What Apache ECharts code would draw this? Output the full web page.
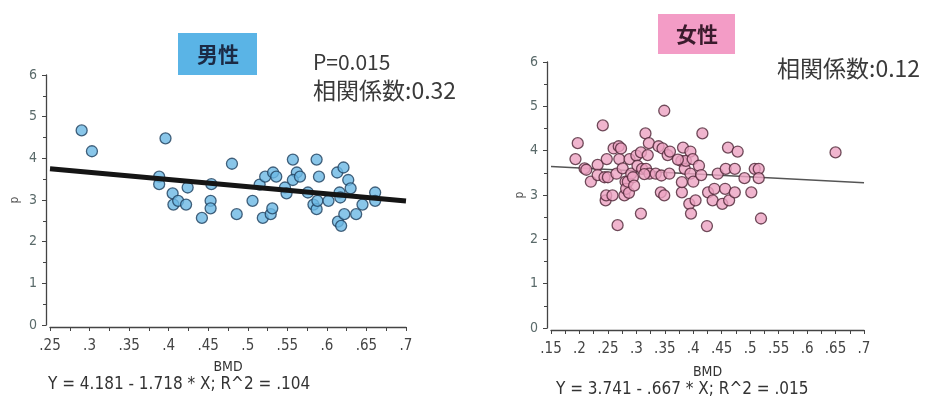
<!DOCTYPE html>
<html>
<head>
<meta charset="utf-8">
<script src="https://cdn.jsdelivr.net/npm/echarts@6/dist/echarts.min.js"></script>
<style>
html,body{margin:0;padding:0;background:#fff;}
#c{width:933px;height:399px;}
</style>
</head>
<body>
<div id="c"></div>
<script>
// ---- Data ----
const maleBMD = [0.290,0.303,0.396,0.388,0.388,0.405,0.406,0.412,0.422,0.424,0.442,0.454,0.453,0.453,0.480,0.486,0.506,0.515,0.519,0.522,0.529,0.531,0.532,0.536,0.547,0.549,0.557,0.562,0.557,0.566,0.576,0.583,0.587,0.590,0.587,0.588,0.602,0.613,0.616,0.614,0.618,0.617,0.621,0.622,0.627,0.630,0.637,0.645,0.661,0.661];
const maleP   = [4.67,4.17,4.48,3.56,3.38,3.16,2.89,2.98,2.89,3.30,2.57,3.38,2.98,2.80,3.87,2.66,2.98,3.37,2.57,3.56,2.66,2.80,3.66,3.56,3.30,3.16,3.97,3.66,3.48,3.56,3.18,2.89,3.97,3.56,2.78,2.98,2.98,3.66,3.18,2.48,2.38,3.06,3.78,2.66,3.48,3.28,2.66,2.89,3.18,2.98];

const femaleBMD = [0.193,0.197,0.209,0.212,0.220,0.232,0.232,0.241,0.244,0.246,0.247,0.250,0.248,0.258,0.260,0.265,0.267,0.269,0.270,0.273,0.276,0.279,0.281,0.282,0.285,0.287,0.288,0.291,0.294,0.300,0.302,0.308,0.308,0.310,0.316,0.317,0.320,0.322,0.323,0.334,0.339,0.344,0.343,0.346,0.349,0.349,0.355,0.359,0.358,0.379,0.380,0.380,0.382,0.385,0.387,0.395,0.393,0.396,0.395,0.399,0.400,0.404,0.410,0.414,0.416,0.424,0.426,0.434,0.437,0.443,0.451,0.456,0.457,0.461,0.463,0.473,0.473,0.478,0.490,0.502,0.508,0.515,0.515,0.519,0.650,0.296,0.314,0.373];
const femaleP   = [3.81,4.17,3.60,3.57,3.30,3.68,3.45,4.57,3.40,2.88,2.99,3.40,3.81,2.99,4.05,3.48,2.32,4.10,3.81,4.05,3.60,2.99,3.30,3.14,3.30,3.05,3.81,3.48,3.40,3.89,3.66,2.58,3.96,3.59,4.39,3.59,3.90,4.17,3.48,3.48,4.10,3.44,3.06,4.05,2.99,4.90,3.90,3.98,3.48,3.77,3.06,3.29,4.07,3.59,3.77,3.98,2.80,2.58,3.48,3.81,3.30,2.88,3.66,3.45,4.39,2.30,3.06,2.88,3.14,3.48,2.80,3.14,3.59,4.07,2.88,3.59,3.06,3.98,3.38,3.06,3.59,3.59,3.38,2.47,3.96,3.21,3.47,3.80];

const maleTickLabels   = ['.25','.3','.35','.4','.45','.5','.55','.6','.65','.7'];
const femaleTickLabels = ['.15','.2','.25','.3','.35','.4','.45','.5','.55','.6','.65','.7'];
const yTickLabels = ['0','1','2','3','4','5','6'];

const maleFit   = {a: 4.181, b: -1.718, xs: [0.25, 0.70]};
const femaleFit = {a: 3.741, b: -0.667, xs: [0.15, 0.70]};

const maleTitle = '男性', femaleTitle = '女性';
const maleStats = ['P=0.015', '相関係数:0.32'];
const femaleStats = ['相関係数:0.12'];
const maleEq = 'Y = 4.181 - 1.718 * X; R^2 = .104';
const femaleEq = 'Y = 3.741 - .667 * X; R^2 = .015';
const xName = 'BMD', yName = 'p';

// ---- Build ----
const pairs = (xs, ys) => xs.map((x, i) => [x, ys[i]]);
const fitLine = f => f.xs.map(x => [x, f.a + f.b * x]);

const narrow = '"DejaVu Sans Condensed","Liberation Sans Narrow","DejaVu Sans",sans-serif';
const cjk = '"Noto Sans CJK JP","Noto Sans",sans-serif';

function xAxisCfg(gi, min, labels, nameGap) {
  return {
    gridIndex: gi, type: 'value', min: min, max: 0.7, interval: 0.05,
    offset: 2,
    name: xName, nameLocation: 'middle', nameGap: nameGap,
    nameTextStyle: {fontFamily: narrow, fontSize: 14, color: '#333'},
    axisLine: {show: true, onZero: false, lineStyle: {color: '#444', width: 1.3}},
    axisTick: {show: true, length: 4, lineStyle: {color: '#444'}},
    minorTick: {show: true, splitNumber: 2, length: 4, lineStyle: {color: '#444'}},
    splitLine: {show: false},
    axisLabel: {
      margin: 12, color: '#444', fontFamily: narrow, fontSize: 15,
      formatter: v => labels[Math.round((v - min) / 0.05)] || ''
    }
  };
}
function yAxisCfg(gi, nameGap) {
  return {
    gridIndex: gi, type: 'value', min: 0, max: 6, interval: 1,
    offset: 4,
    name: yName, nameLocation: 'middle', nameGap: nameGap, nameRotate: 90,
    nameTextStyle: {fontFamily: narrow, fontSize: 12, color: '#555'},
    axisLine: {show: true, lineStyle: {color: '#444', width: 1.3}},
    axisTick: {show: true, length: 4, lineStyle: {color: '#444'}},
    minorTick: {show: true, splitNumber: 2, length: 3, lineStyle: {color: '#444'}},
    splitLine: {show: false},
    axisLabel: {
      margin: 9, color: '#5a6a6a', fontFamily: narrow, fontSize: 14,
      formatter: v => yTickLabels[Math.round(v)]
    }
  };
}

const chart = echarts.init(document.getElementById('c'), null, {renderer: 'canvas'});
chart.setOption({
  backgroundColor: '#fff',
  animation: false,
  grid: [
    {left: 50, top: 75, width: 356, height: 250},
    {left: 551, top: 62, width: 313, height: 266}
  ],
  xAxis: [xAxisCfg(0, 0.25, maleTickLabels, 33), xAxisCfg(1, 0.15, femaleTickLabels, 35)],
  yAxis: [yAxisCfg(0, 25), yAxisCfg(1, 20)],
  series: [
    {
      type: 'scatter', xAxisIndex: 0, yAxisIndex: 0, z: 3,
      data: pairs(maleBMD, maleP), symbolSize: 11,
      itemStyle: {color: '#6cb8e4', borderColor: '#1e3f5c', borderWidth: 1.3}
    },
    {
      type: 'line', xAxisIndex: 0, yAxisIndex: 0, z: 4,
      data: fitLine(maleFit), symbol: 'none',
      lineStyle: {color: '#151515', width: 5}
    },
    {
      type: 'scatter', xAxisIndex: 1, yAxisIndex: 1, z: 3,
      data: pairs(femaleBMD, femaleP), symbolSize: 11,
      itemStyle: {color: '#eca2c2', borderColor: '#4d2636', borderWidth: 1.3}
    },
    {
      type: 'line', xAxisIndex: 1, yAxisIndex: 1, z: 2,
      data: fitLine(femaleFit), symbol: 'none',
      lineStyle: {color: '#555', width: 1.5}
    }
  ],
  graphic: [
    {type: 'rect', shape: {x: 178, y: 33, width: 79, height: 42}, style: {fill: '#5ab4e6'}},
    {type: 'text', x: 218, y: 54, style: {text: maleTitle, fontFamily: cjk, fontSize: 21, fontWeight: 'bold', fill: '#1b2a45', align: 'center', verticalAlign: 'middle'}},
    {type: 'text', x: 313, y: 62, style: {text: maleStats[0], fontFamily: cjk, fontSize: 21, fill: '#3a3a3a', align: 'left', verticalAlign: 'middle'}},
    {type: 'text', x: 313, y: 90, style: {text: maleStats[1], fontFamily: cjk, fontSize: 23, fill: '#3a3a3a', align: 'left', verticalAlign: 'middle'}},
    {type: 'rect', shape: {x: 658, y: 14, width: 77, height: 40}, style: {fill: '#f39cc6'}},
    {type: 'text', x: 697, y: 34, style: {text: femaleTitle, fontFamily: cjk, fontSize: 21, fontWeight: 'bold', fill: '#3a1a2c', align: 'center', verticalAlign: 'middle'}},
    {type: 'text', x: 777, y: 68, style: {text: femaleStats[0], fontFamily: cjk, fontSize: 23, fill: '#3a3a3a', align: 'left', verticalAlign: 'middle'}},
    {type: 'text', x: 48, y: 385, style: {text: maleEq, fontFamily: narrow, fontSize: 17, fill: '#333', align: 'left', verticalAlign: 'middle'}},
    {type: 'text', x: 556, y: 390, style: {text: femaleEq, fontFamily: narrow, fontSize: 17, fill: '#333', align: 'left', verticalAlign: 'middle'}}
  ]
});
</script>
</body>
</html>
